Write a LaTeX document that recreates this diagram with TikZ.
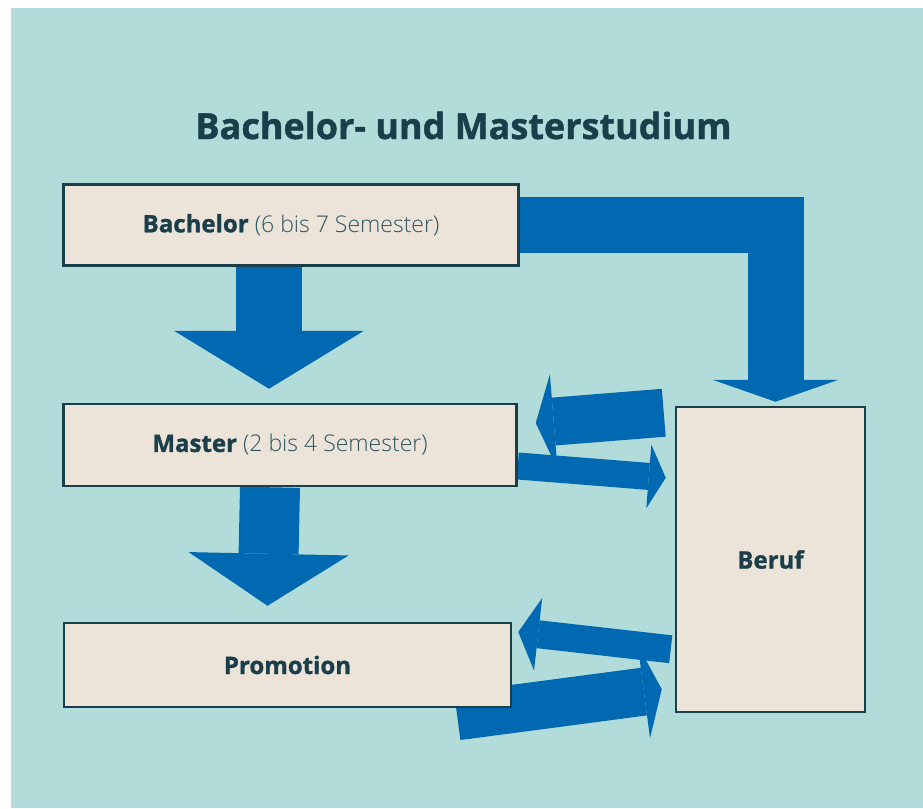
\documentclass[tikz,border=0pt]{standalone}
\usepackage{fontspec}
\setmainfont{Open Sans}
\IfFontExistsTF{Open Sans Light}
  {\newfontfamily\lightfont{Open Sans Light}}
  {\newfontfamily\lightfont{Fira Sans Light}}
\newfontfamily\heavyfont{Open Sans}[UprightFont={* Bold}, FakeBold=1.2]
\usetikzlibrary{positioning, calc, arrows.meta, backgrounds}

\definecolor{bgteal}{HTML}{B2DCDA}
\definecolor{arrowblue}{HTML}{0169B1}
\definecolor{boxbeige}{HTML}{ECE4D9}
\definecolor{darkteal}{HTML}{1A3F4B}
\definecolor{softteal}{HTML}{2F5662}

\begin{document}
\begin{tikzpicture}[x=1pt, y=-1pt,
    stage/.style={draw=darkteal, fill=boxbeige, line width=2.5pt, text=darkteal,
      font=\fontsize{24}{28}\selectfont\heavyfont, inner sep=0pt},
    flow/.style={draw=arrowblue, line join=miter}]
      \useasboundingbox (0,0) rectangle (923,808);
      % boxes
      \node[stage, minimum width=455pt, minimum height=81pt] (bach) at (291,225)
        {Bachelor {\fontsize{23}{27}\selectfont\lightfont\color{softteal} (6 bis 7 Semester)}};
      \node[stage, minimum width=453pt, minimum height=82pt] (master) at (290,445)
        {Master {\fontsize{23}{27}\selectfont\lightfont\color{softteal} (2 bis 4 Semester)}};
      \node[stage, minimum width=447pt, minimum height=84pt] (promo) at (287.5,665) {Promotion};
      \node[stage, minimum width=189pt, minimum height=305pt] (beruf) at (770.5,559.5) {Beruf};
      \node[text=darkteal, font=\fontsize{36}{40}\selectfont\heavyfont] (title) at (463.5,125.5)
        {Bachelor- und Masterstudium};

      \begin{scope}[on background layer]
      \fill[bgteal] (11,8) rectangle (923,808);
      % arrows
      \draw[flow, line width=66pt, -{Triangle[length=58pt 0 0, width=190pt 0 0, line width=0pt 0]}]
        ($(bach.south)+(-22,0)$) -- ($(master.north)+(-21,-14)$);
      \draw[flow, line width=60pt, -{Triangle[length=52pt 0 0, width=160pt 0 0, line width=0pt 0]}]
        ($(master.south)+(-20,0)$) -- ($(promo.north)+(-20,-16)$);
      \draw[flow, line width=56pt, -{Triangle[length=22pt 0 0, width=126pt 0 0, line width=0pt 0]}]
        (bach.east) -| ($(beruf.north)+(5,-4)$);
      \draw[flow, line width=48pt, -{Triangle[length=18pt 0 0, width=95pt 0 0, line width=0pt 0]}]
        ($(beruf.north west)+(-11,7)$) -- ($(master.east)+(18,-22)$);
      \draw[flow, line width=27pt, -{Triangle[length=17pt 0 0, width=64pt 0 0, line width=0pt 0]}]
        ($(master.east)+(0,21)$) -- ($(beruf.north west)+(-9,72)$);
      \draw[flow, line width=28pt, -{Triangle[length=20pt 0 0, width=73pt 0 0, line width=0pt 0]}]
        ($(beruf.south west)+(-4,-64)$) -- ($(promo.east)+(6,-33)$);
      \draw[flow, line width=48pt, -{Triangle[length=18pt 0 0, width=94pt 0 0, line width=0pt 0]}]
        ($(promo.south east)+(-55,8)$) -- ($(beruf.south west)+(-13,-24)$);
      \end{scope}
\end{tikzpicture}
\end{document}
